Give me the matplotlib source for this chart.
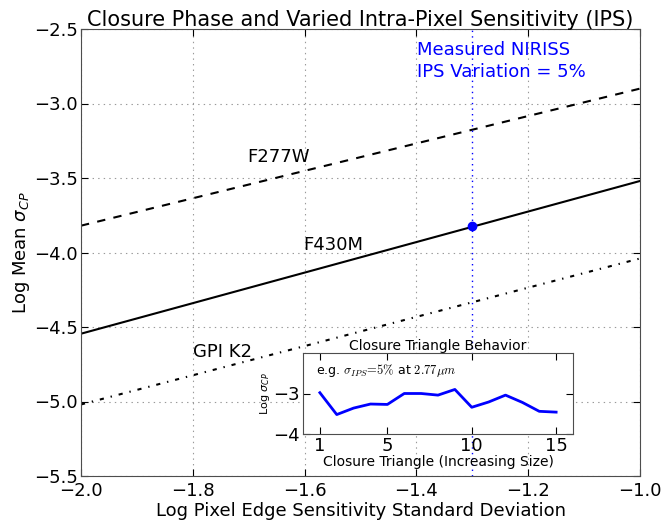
import matplotlib
matplotlib.use("Agg")
import matplotlib.pyplot as plt
import numpy as np

plt.rcParams['font.family'] = ['DejaVu Sans']
plt.rcParams['lines.scale_dashes'] = False

# ---- data ----
x_sens = [-2.0, -1.0]
f277w = [-3.82, -2.90]
f430m = [-4.545, -3.52]
gpi_k2 = [-5.02, -4.04]
niriss_x = -1.3
niriss_y = -3.82

triangles = list(range(1, 16))
tri_logsig = [-2.98, -3.52, -3.36, -3.26, -3.27, -3.00, -3.00, -3.04,
              -2.90, -3.34, -3.21, -3.04, -3.22, -3.44, -3.46]

main_xticks = [-2.0, -1.8, -1.6, -1.4, -1.2, -1.0]
main_yticks = [-5.5, -5.0, -4.5, -4.0, -3.5, -3.0, -2.5]
inset_xticks = [1, 5, 10, 15]
inset_yticks = [-4, -3]

fig = plt.figure(figsize=(6.66, 5.25), dpi=100)
ax = fig.add_axes([81/666, 49/525, 559/666, 447/525])

ax.plot(x_sens, f277w, color='k', lw=1.5, linestyle=(0, (6, 6)))
ax.plot(x_sens, f430m, color='k', lw=1.5, linestyle='-')
ax.plot(x_sens, gpi_k2, color='k', lw=1.5, linestyle=(0, (3, 5, 1, 5)))
ax.axvline(niriss_x, color='b', lw=1.0, linestyle=(0, (1, 3)))
ax.plot([niriss_x], [niriss_y], 'o', color='b', ms=6, mec='b', zorder=5)

ax.set_xlim(-2.0, -1.0)
ax.set_ylim(-5.5, -2.5)
ax.set_xticks(main_xticks)
ax.set_yticks(main_yticks)
ax.set_xticklabels(['\u22122.0', '\u22121.8', '\u22121.6', '\u22121.4', '\u22121.2', '\u22121.0'])
ax.set_yticklabels(['\u22125.5', '\u22125.0', '\u22124.5', '\u22124.0', '\u22123.5', '\u22123.0', '\u22122.5'])
ax.tick_params(direction='in', top=True, right=True, length=5, labelsize=13,
               colors='k')
ax.tick_params(axis='y', pad=2)
ax.tick_params(axis='x', pad=4)
ax.grid(True, color='0.6', linestyle=(0, (1, 3)), lw=0.8)
for s in ax.spines.values():
    s.set_color('0.3')

ax.set_title('Closure Phase and Varied Intra-Pixel Sensitivity (IPS)', fontsize=15, pad=2)
ax.set_xlabel('Log Pixel Edge Sensitivity Standard Deviation', fontsize=13, labelpad=2)
ax.set_ylabel(r'Log Mean $\sigma_{CP}$', fontsize=13, labelpad=2)

ax.text(-1.703, -3.36, 'F277W', fontsize=13, va='center', ha='left')
ax.text(-1.603, -3.95, 'F430M', fontsize=13, va='center', ha='left')
ax.text(-1.80, -4.67, 'GPI K2', fontsize=13, va='center', ha='left')
ax.text(-1.399, -2.58, 'Measured NIRISS\nIPS Variation = 5%', fontsize=13,
        color='b', va='top', ha='left', linespacing=1.3)

# ---- inset ----
ins = fig.add_axes([303/666, 91/525, 270/666, 81/525])
ins.plot(triangles, tri_logsig, color='b', lw=2)
ins.set_xlim(0, 16)
ins.set_ylim(-4, -2)
ins.set_xticks(inset_xticks)
ins.set_yticks(inset_yticks)
ins.set_yticklabels(['\u22124', '\u22123'])
ins.tick_params(direction='in', top=True, right=True, length=5, labelsize=13,
                colors='k', pad=2)
for s in ins.spines.values():
    s.set_color('0.3')
ins.set_title('Closure Triangle Behavior', fontsize=10, pad=2)
ins.set_xlabel('Closure Triangle (Increasing Size)', fontsize=10, labelpad=0)
ins.set_ylabel(r'Log $\sigma_{CP}$', fontsize=8, labelpad=1)
ins.text(0.05, 0.78, r'e.g. $\sigma_{IPS}\!=\!5\%$ at $2.77\mu m$', transform=ins.transAxes,
         fontsize=9, va='center', ha='left', math_fontfamily='cm')

fig.savefig('out.png', dpi=100)
